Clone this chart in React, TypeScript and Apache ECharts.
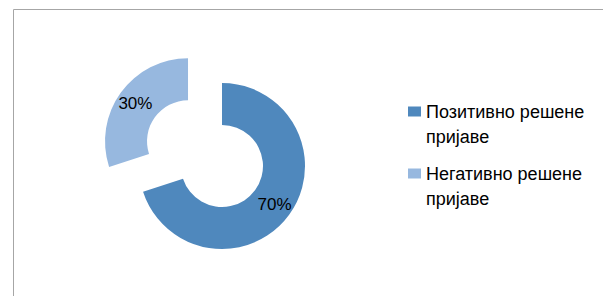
import React, { useEffect, useRef } from 'react';
import * as echarts from 'echarts';

const categories = ['Позитивно решене пријаве', 'Негативно решене пријаве'];
const legendLines = [
  ['Позитивно решене', 'пријаве'],
  ['Негативно решене', 'пријаве'],
];
const values = [70, 30];
const colors = ['#4f88bd', '#97b8df'];

const FONT = '"Liberation Sans", Arial, sans-serif';

export default function App() {
  const ref = useRef<HTMLDivElement>(null);
  useEffect(() => {
    const chart = echarts.init(ref.current!, null, { renderer: 'svg' });
    const legendTops = [74, 136];
    chart.setOption({
      animation: false,
      backgroundColor: '#ffffff',
      graphic: [
        {
          type: 'rect',
          silent: true,
          z: -10,
          shape: { x: 13.5, y: 9.5, width: 800, height: 500 },
          style: { fill: 'none', stroke: '#a6a6a6', lineWidth: 1 },
        },
      ],
      legend: categories.map((c, i) => ({
        data: [c],
        orient: 'vertical',
        left: 408,
        top: legendTops[i],
        padding: 0,
        itemWidth: 13,
        itemHeight: 10,
        itemGap: 0,
        icon: 'rect',
        selectedMode: false,
        formatter: () => '{pad| }\n' + legendLines[i].map((l) => '{a|' + l + '}').join('\n'),
        textStyle: {
          fontFamily: FONT,
          fontSize: 18,
          lineHeight: 25,
          color: '#000000',
          rich: {
            pad: { fontFamily: FONT, fontSize: 18, lineHeight: 25, color: '#000000' },
            a: { fontFamily: FONT, fontSize: 18, lineHeight: 25, color: '#000000' },
          },
        },
      })),
      series: [
        {
          type: 'pie',
          center: [222, 166],
          radius: [41, 83],
          startAngle: 90,
          clockwise: true,
          selectedMode: 'single',
          selectedOffset: 42,
          avoidLabelOverlap: false,
          emphasis: { disabled: true },
          select: { itemStyle: { borderWidth: 0 } },
          itemStyle: { borderWidth: 0 },
          label: {
            show: true,
            position: 'inside',
            formatter: (p: any) => Math.round(p.percent) + '%',
            color: '#000000',
            fontFamily: FONT,
            fontSize: 17,
          },
          labelLine: { show: false },
          data: categories.map((c, i) => ({
            name: c,
            value: values[i],
            selected: i === 1,
            itemStyle: { color: colors[i] },
          })),
        },
      ],
    });
    return () => chart.dispose();
  }, []);
  return (
    <div
      ref={ref}
      style={{ position: 'absolute', left: 0, top: 0, width: 603, height: 296 }}
    />
  );
}
